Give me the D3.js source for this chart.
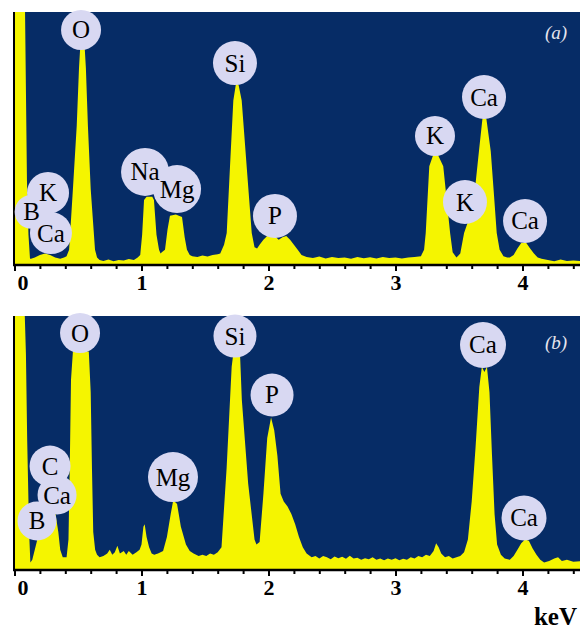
<!DOCTYPE html>
<html><head><meta charset="utf-8">
<script src="https://cdn.jsdelivr.net/npm/d3@7"></script>
<style>
html,body{margin:0;padding:0;background:#ffffff;}
svg{display:block;}
</style></head><body>
<svg id="chart" width="580" height="629"></svg>
<script>
// ---- data (energy in keV, intensity in % of panel full scale) ----
const spectrumA = [
 [0.00,130],[0.075,110],[0.083,100],[0.098,33.6],[0.11,12],[0.122,2.5],
 [0.13,2.5],[0.16,3],[0.20,4],[0.24,4.5],[0.28,4],[0.32,3],[0.36,2.5],[0.39,3],
 [0.41,3.5],[0.43,6],[0.46,30],[0.49,55],[0.508,78],[0.522,90],[0.548,90],[0.562,78],[0.578,55],[0.60,30],[0.634,6],[0.65,3],
 [0.67,2],[0.70,1.6],[0.74,2.2],[0.78,1.5],[0.82,2],[0.86,1.8],[0.90,2.4],[0.94,2],[0.97,3],
 [0.99,4],[1.005,12],[1.02,25.7],[1.04,27],[1.085,27],[1.098,25.7],[1.118,12],[1.138,6],[1.15,4.5],
 [1.16,5],[1.185,6],[1.205,14],[1.224,19.5],[1.27,20],[1.319,19],[1.34,11],[1.358,6],[1.38,4],
 [1.40,3.5],[1.44,3.2],[1.48,3.8],[1.52,3.4],[1.56,4],[1.60,4.2],
 [1.62,4.5],[1.65,8],[1.671,12.6],[1.697,39],[1.723,65],[1.745,72],[1.765,71],[1.789,65],[1.828,39],[1.868,12.6],[1.89,7],[1.91,6.5],
 [1.93,8],[1.96,10],[1.99,11.5],[2.02,12],[2.05,11.5],[2.08,10],[2.11,11],[2.14,11.5],[2.17,10],[2.20,8],[2.23,6],[2.26,4],[2.30,3.2],
 [2.35,2.8],[2.40,3.4],[2.45,2.6],[2.50,3.2],[2.55,2.8],[2.60,3.0],[2.65,2.5],[2.70,3.2],[2.75,2.7],[2.80,3.1],[2.85,2.6],[2.90,3.2],[2.95,2.8],[3.00,3.0],[3.05,2.6],[3.10,3.0],[3.15,3.2],
 [3.20,3.5],[3.225,6],[3.238,12.6],[3.266,39],[3.30,44],[3.33,44],[3.376,39],[3.43,12.6],[3.45,5],[3.48,3],
 [3.51,4.5],[3.54,12.6],[3.57,17],[3.60,22],[3.63,32],[3.657,45],[3.685,58],[3.715,58],[3.75,45],[3.775,28],[3.797,12.6],[3.82,6],[3.85,3.5],[3.88,3],
 [3.90,3],[3.93,4],[3.96,6.5],[3.99,8.7],[4.03,8.7],[4.06,6.5],[4.09,4.5],[4.12,3],[4.15,2.5],
 [4.20,2],[4.25,1.5],[4.30,2.2],[4.35,1.6],[4.40,1.8],[4.46,1.5]
];
const spectrumB = [
 [0.00,130],[0.075,110],[0.09,85],[0.10,51],[0.115,15],[0.125,3],
 [0.14,4],[0.17,10],[0.20,16],[0.23,21],[0.26,24],[0.29,25],[0.32,23],[0.345,15],[0.36,8],[0.38,5],[0.40,5],
 [0.41,5],[0.425,12],[0.435,40],[0.445,75],[0.46,86],[0.50,86],[0.55,86],[0.585,86],[0.60,70],[0.61,40],[0.62,15],[0.635,8],[0.65,6],
 [0.67,5],[0.70,5.5],[0.73,6.5],[0.75,8],[0.77,6],[0.79,7],[0.81,9.5],[0.83,6.5],[0.86,7.5],[0.88,6],[0.90,7.5],[0.93,6],[0.96,7],[0.985,8],
 [1.00,10],[1.015,17],[1.025,18],[1.04,13],[1.06,9],[1.08,6.5],[1.10,6],
 [1.13,6.5],[1.17,7.5],[1.20,13],[1.23,22],[1.25,27.5],[1.28,26],[1.31,17],[1.35,10],[1.38,7.5],[1.41,6.5],
 [1.45,5.5],[1.48,6],[1.51,5.5],[1.54,6.5],[1.57,6],[1.60,7],
 [1.63,9],[1.67,40],[1.71,80],[1.725,86],[1.775,86],[1.79,67],[1.84,34],[1.89,12],[1.905,10],
 [1.93,11],[1.96,30],[1.99,52],[2.02,60],[2.045,55],[2.07,45],[2.095,30],[2.12,27],[2.15,25],[2.18,22],[2.21,18],[2.24,13],[2.27,9],[2.30,6.5],[2.34,5],
 [2.37,5.5],[2.40,4.5],[2.43,5.5],[2.46,5],[2.49,4.2],[2.52,5.3],[2.55,4.6],[2.58,5.2],[2.61,4.4],[2.64,5.6],[2.67,4.5],[2.70,4.8],[2.73,4],[2.76,4.6],[2.79,4.2],[2.82,5],[2.85,4],[2.88,4.5],[2.91,3.8],[2.94,4.5],[2.97,4],[3.00,4.6],[3.03,3.8],[3.06,4.4],[3.09,4],[3.12,5],[3.15,4.5],[3.18,5.5],[3.21,5],[3.24,6],
 [3.27,5.5],[3.30,7.5],[3.32,10.5],[3.34,9],[3.36,6.5],[3.39,5],[3.42,5.5],[3.45,4.5],[3.48,5],[3.51,5.5],
 [3.54,7],[3.57,12],[3.60,27],[3.63,48],[3.66,72],[3.68,80],[3.70,78],[3.72,80],[3.74,70],[3.76,45],[3.78,22],[3.80,10],[3.83,6],[3.86,4.5],
 [3.90,4],[3.93,5.5],[3.96,8],[3.99,10.5],[4.02,12],[4.05,11.5],[4.08,8.5],[4.11,6],[4.14,4],[4.17,3],
 [4.21,3.5],[4.25,4.5],[4.28,5],[4.31,3.5],[4.35,4],[4.40,3.2],[4.46,3.5]
];
// peak labels: [element, keV, level %]
const labelsA = [
 ["B",0.135,21.0],["K",0.264,28.5],["Ca",0.287,12.6],["O",0.524,92.9],
 ["Na",1.028,36.8],["Mg",1.280,30.0],["Si",1.736,79.8],["P",2.051,19.4],
 ["K",3.311,51.0],["Ca",3.697,66.4],["K",3.547,24.9],["Ca",4.020,17.4]
];
const labelsB = [
 ["C",0.280,40.9],["Ca",0.335,29.5],["B",0.177,19.3],["O",0.516,93.3],
 ["Mg",1.248,36.6],["Si",1.736,92.1],["P",2.028,68.9],
 ["Ca",3.689,88.6],["Ca",4.012,20.5]
];
const panelTags = ["(a)","(b)"];
const majorTicks = [0,1,2,3,4];
const tickLabels = ["0","1","2","3","4"];
const minorTicks = [0.2,0.4,0.6,0.8,1.2,1.4,1.6,1.8,2.2,2.4,2.6,2.8,3.2,3.4,3.6,3.8,4.2,4.4];
const unitLabel = "keV";

// ---- styles / layout ----
const radiusA = [17,21,21,20,24,24,22,22,20,22,22,22];
const radiusB = [20.5,19.5,19.5,20,25,21.5,21.5,23,22.5];
const NAVY = "#062c66", YELLOW = "#f5f500", BUBBLE = "#d8d8f2";
const SERIF = "'Liberation Serif','Times New Roman',serif";
const plotLeft = 13, plotRight = 580;
const svg = d3.select("#chart");
const x = d3.scaleLinear().domain([0,4]).range([14.5, 522.5]);

const panels = [
  {top:12, bottom:265, spec:spectrumA, labels:labelsA, radii:radiusA, tag:panelTags[0], tagY:39},
  {top:316, bottom:570, spec:spectrumB, labels:labelsB, radii:radiusB, tag:panelTags[1], tagY:349}
];

panels.forEach((p,i)=>{
  const y = d3.scaleLinear().domain([0,100]).range([p.bottom, p.top]);
  const g = svg.append("g");
  const clipId = "clip"+i;
  svg.append("defs").append("clipPath").attr("id",clipId)
    .append("rect").attr("x",plotLeft).attr("y",p.top)
    .attr("width",plotRight-plotLeft).attr("height",p.bottom-p.top);
  g.append("rect").attr("x",plotLeft).attr("y",p.top)
    .attr("width",plotRight-plotLeft).attr("height",p.bottom-p.top).attr("fill",NAVY);
  const area = d3.area().x(d=>x(d[0])).y0(y(0)).y1(d=>y(d[1]));
  g.append("path").datum(p.spec).attr("d",area).attr("fill",YELLOW)
    .attr("clip-path","url(#"+clipId+")");
  // axes
  g.append("line").attr("x1",plotLeft+1).attr("x2",plotLeft+1)
    .attr("y1",p.top).attr("y2",p.bottom).attr("stroke","#000").attr("stroke-width",2);
  const ax = g.append("g").attr("transform",`translate(0,${p.bottom})`)
    .call(d3.axisBottom(x).tickValues(majorTicks).tickSize(6).tickPadding(3)
      .tickFormat((d,k)=>tickLabels[k]));
  ax.select(".domain").remove();
  ax.selectAll(".tick line").attr("stroke","#000").attr("stroke-width",2);
  ax.selectAll(".tick text").attr("fill","#000")
    .style("font-family",SERIF).style("font-size","22px").style("font-weight","bold");
  ax.selectAll(".tick text").filter(d=>d===0).attr("dx",8);
  const axm = g.append("g").attr("transform",`translate(0,${p.bottom})`)
    .call(d3.axisBottom(x).tickValues(minorTicks).tickSize(4).tickFormat(""));
  axm.select(".domain").remove();
  axm.selectAll(".tick line").attr("stroke","#000").attr("stroke-width",2);
  g.append("line").attr("x1",plotLeft).attr("x2",plotRight)
    .attr("y1",p.bottom).attr("y2",p.bottom).attr("stroke","#000").attr("stroke-width",2.5);
  // bubbles
  g.selectAll("circle.bub").data(p.labels).enter().append("circle")
    .attr("class","bub").attr("cx",d=>x(d[1])).attr("cy",d=>y(d[2]))
    .attr("r",(d,k)=>p.radii[k]).attr("fill",BUBBLE);
  g.selectAll("text.lab").data(p.labels).enter().append("text")
    .attr("class","lab").attr("x",d=>x(d[1])).attr("y",d=>y(d[2]))
    .attr("dy","0.34em").attr("text-anchor","middle").attr("fill","#000")
    .style("font-family",SERIF).style("font-size","25px").text(d=>d[0]);
  // tag
  g.append("text").attr("x",556).attr("y",p.tagY).attr("text-anchor","middle")
    .attr("fill","#e6e6ee")
    .style("font-family",SERIF).style("font-size","19px").style("font-style","italic").text(p.tag);
});
svg.append("text").attr("x",577).attr("y",625).attr("text-anchor","end")
  .attr("fill","#000")
  .style("font-family",SERIF).style("font-size","25px").style("font-weight","bold").text(unitLabel);
</script>
</body></html>
